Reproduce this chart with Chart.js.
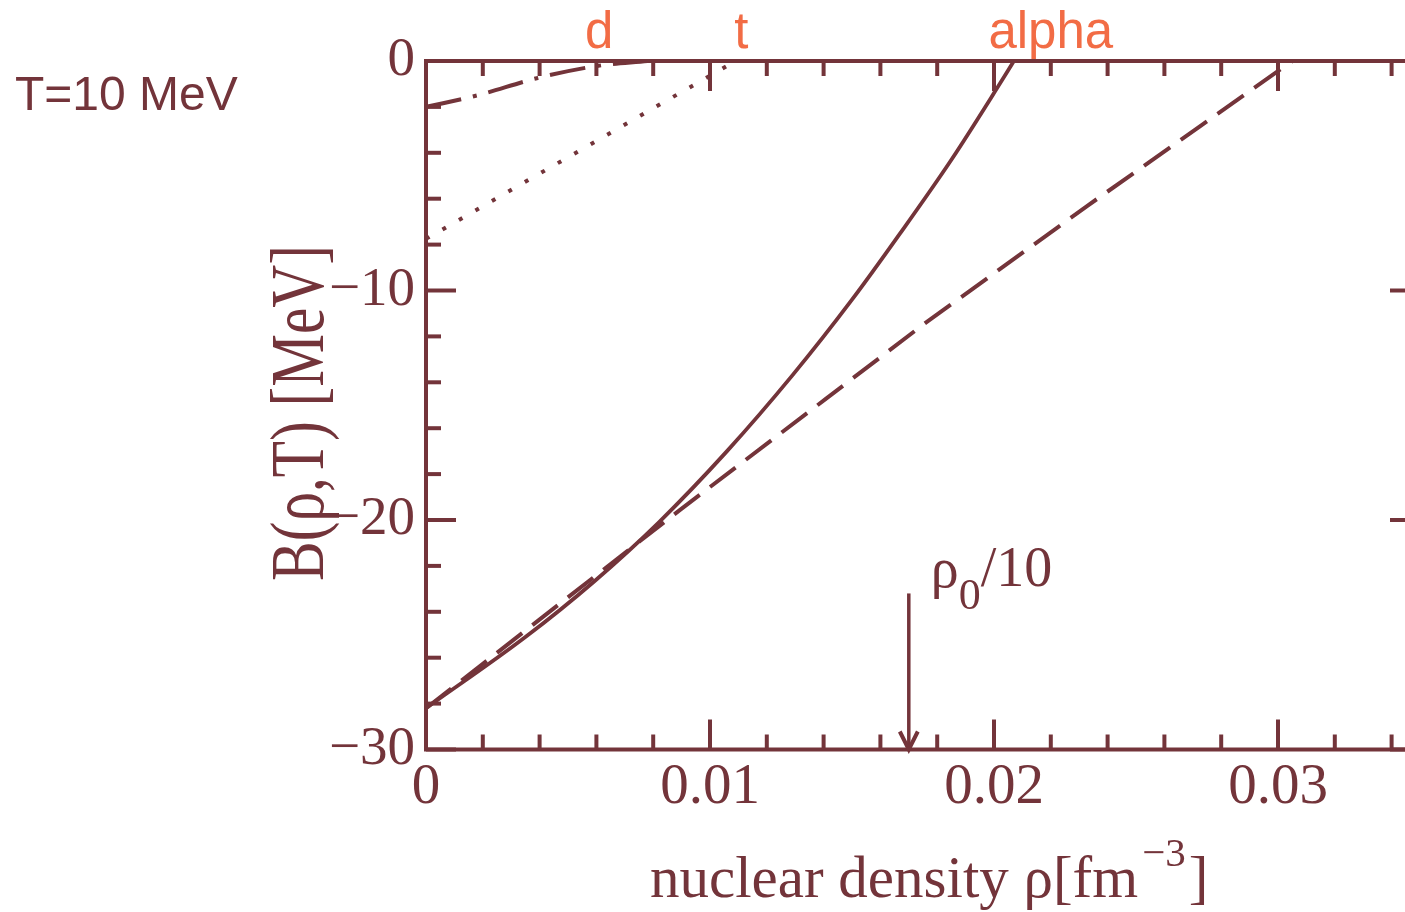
<!DOCTYPE html>
<html>
<head>
<meta charset="utf-8">
<script src="https://cdn.jsdelivr.net/npm/chart.js@4.4.1/dist/chart.umd.min.js"></script>
<style>
  html, body { margin: 0; padding: 0; background: #fff; overflow: hidden; }
  canvas { display: block; }
</style>
</head>
<body>
<canvas id="bindingChart" width="1422" height="912" style="width:1422px;height:912px"></canvas>
<script>
// binding energy shift B(rho,T) of light clusters vs density, T = 10 MeV
const deuteronRho = [0, 0.0018, 0.0039, 0.0060, 0.0078];
const deuteronB = [-2.0, -1.5, -0.75, -0.22, 0];

const tritonRho = [0, 0.0109];
const tritonB = [-7.75, 0];

const alphaRho = [0, 0.0035, 0.0059, 0.0082, 0.0106, 0.0129, 0.0150, 0.0167, 0.0185, 0.0201, 0.0207];
const alphaB = [-28.2, -25.1, -22.7, -20.1, -17.0, -13.7, -10.4, -7.5, -4.3, -1.2, 0];

const alphaLinRho = [0, 0.0089, 0.0141, 0.0176, 0.0233, 0.0273, 0.0305];
const alphaLinB = [-28.2, -19.6, -14.7, -11.4, -6.3, -2.8, 0];

const clusterNames = ["d", "t", "alpha"];
const clusterNameRho = [0.0061, 0.0111, 0.0220];

const rhoMin = 0, rhoMax = 0.035, rhoStep = 0.002, rhoMajor = 0.01;
const bMin = -30, bMax = 0, bStep = 2, bMajor = 10;
const markerRho = 0.017;   // rho_0 / 10
const markerTop = -23.2;

const brown = "#73343a";
const orange = "#f26c45";

const toPoints = (xs, ys) => xs.map((x, i) => ({ x: x, y: ys[i] }));
const isMultiple = (v, step) => Math.abs(v / step - Math.round(v / step)) < 1e-6;

const frameAndLabels = {
  id: "frameAndLabels",
  afterDatasetsDraw(chart) {
    const { ctx, chartArea: a, scales: { x, y } } = chart;
    const line = (x1, y1, x2, y2) => {
      ctx.beginPath();
      ctx.moveTo(x1, y1);
      ctx.lineTo(x2, y2);
      ctx.stroke();
    };

    ctx.save();
    ctx.strokeStyle = brown;
    ctx.fillStyle = brown;
    ctx.lineWidth = 4;
    ctx.lineCap = "butt";

    // box and inward ticks on all four sides
    ctx.strokeRect(a.left, a.top, a.right - a.left, a.bottom - a.top);
    x.ticks.forEach(t => {
      const px = x.getPixelForValue(t.value);
      const len = isMultiple(t.value, rhoMajor) ? 30 : 15;
      line(px, a.bottom, px, a.bottom - len);
      line(px, a.top, px, a.top + len);
    });
    y.ticks.forEach(t => {
      const py = y.getPixelForValue(t.value);
      const len = isMultiple(t.value, bMajor) ? 30 : 15;
      line(a.left, py, a.left + len, py);
      line(a.right, py, a.right - len, py);
    });

    // rho_0/10 arrow
    const ax = x.getPixelForValue(markerRho);
    const aTop = y.getPixelForValue(markerTop);
    const aTip = y.getPixelForValue(bMin);
    ctx.lineWidth = 3.5;
    line(ax, aTop, ax, aTip - 4);
    ctx.lineWidth = 4;
    ctx.beginPath();
    ctx.moveTo(ax - 9, aTip - 18);
    ctx.lineTo(ax, aTip);
    ctx.lineTo(ax + 9, aTip - 18);
    ctx.stroke();

    ctx.textAlign = "left";
    ctx.textBaseline = "alphabetic";
    ctx.font = '56px "Liberation Serif"';
    let tx = ax + 22;
    ctx.fillText("\u03c1", tx, 587);
    tx += ctx.measureText("\u03c1").width;
    ctx.font = '44px "Liberation Serif"';
    ctx.fillText("0", tx, 609);
    tx += ctx.measureText("0").width;
    ctx.font = '56px "Liberation Serif"';
    ctx.fillText("/10", tx, 586);

    // x axis title with superscript
    ctx.font = '59px "Liberation Serif"';
    const xTitle = "nuclear density \u03c1[fm";
    tx = 650;
    ctx.fillText(xTitle, tx, 897);
    tx += ctx.measureText(xTitle).width + 4;
    ctx.font = '41px "Liberation Serif"';
    ctx.fillText("\u22123", tx, 866);
    tx += ctx.measureText("\u22123").width + 3;
    ctx.font = '59px "Liberation Serif"';
    ctx.fillText("]", tx, 897);

    // y axis title, narrow and rotated
    ctx.save();
    ctx.translate(323, 413);
    ctx.rotate(-Math.PI / 2);
    ctx.scale(0.78, 1);
    ctx.textAlign = "center";
    ctx.font = '76px "Liberation Serif"';
    ctx.fillText("B(\u03c1,T) [MeV]", 0, 0);
    ctx.restore();

    // temperature note
    ctx.font = '48px "Liberation Sans"';
    ctx.fillText("T=10 MeV", 15, 110);

    // cluster names above the top axis
    ctx.fillStyle = orange;
    ctx.textAlign = "center";
    ctx.font = '51px "Liberation Sans"';
    clusterNames.forEach((name, i) => {
      ctx.fillText(name, x.getPixelForValue(clusterNameRho[i]), 48);
    });

    ctx.restore();
  }
};

new Chart(document.getElementById("bindingChart"), {
  type: "line",
  data: {
    datasets: [
      {
        label: "d",
        data: toPoints(deuteronRho, deuteronB),
        borderColor: brown,
        borderWidth: 4,
        borderDash: [36, 12, 4, 12],
        cubicInterpolationMode: "monotone"
      },
      {
        label: "t",
        data: toPoints(tritonRho, tritonB),
        borderColor: brown,
        borderWidth: 4,
        borderDash: [4, 15]
      },
      {
        label: "alpha",
        data: toPoints(alphaRho, alphaB),
        borderColor: brown,
        borderWidth: 3.8,
        cubicInterpolationMode: "monotone"
      },
      {
        label: "alpha (linear)",
        data: toPoints(alphaLinRho, alphaLinB),
        borderColor: brown,
        borderWidth: 4,
        borderDash: [32, 13]
      }
    ]
  },
  options: {
    responsive: false,
    animation: false,
    devicePixelRatio: 1,
    layout: { padding: { top: 61, right: 2, left: 0, bottom: 0 } },
    elements: { point: { radius: 0 }, line: { borderCapStyle: "butt", fill: false } },
    plugins: { legend: { display: false }, tooltip: { enabled: false } },
    scales: {
      x: {
        type: "linear",
        min: rhoMin,
        max: rhoMax,
        grid: { display: false },
        border: { display: false },
        afterFit: s => { s.height = 162.5; },
        ticks: {
          stepSize: rhoStep,
          includeBounds: false,
          autoSkip: false,
          maxRotation: 0,
          padding: -4,
          color: brown,
          font: { family: "Liberation Serif", size: 57 },
          callback: v => isMultiple(v, rhoMajor) ? (v === 0 ? "0" : v.toFixed(2)) : ""
        }
      },
      y: {
        type: "linear",
        min: bMin,
        max: bMax,
        grid: { display: false },
        border: { display: false },
        afterFit: s => { s.width = 426; },
        ticks: {
          stepSize: bStep,
          autoSkip: false,
          padding: 3,
          color: brown,
          font: { family: "Liberation Serif", size: 55 },
          callback: v => isMultiple(v, bMajor) ? (v < 0 ? "\u2212" + Math.abs(v) : "0") : ""
        }
      }
    }
  },
  plugins: [frameAndLabels]
});
</script>
</body>
</html>
